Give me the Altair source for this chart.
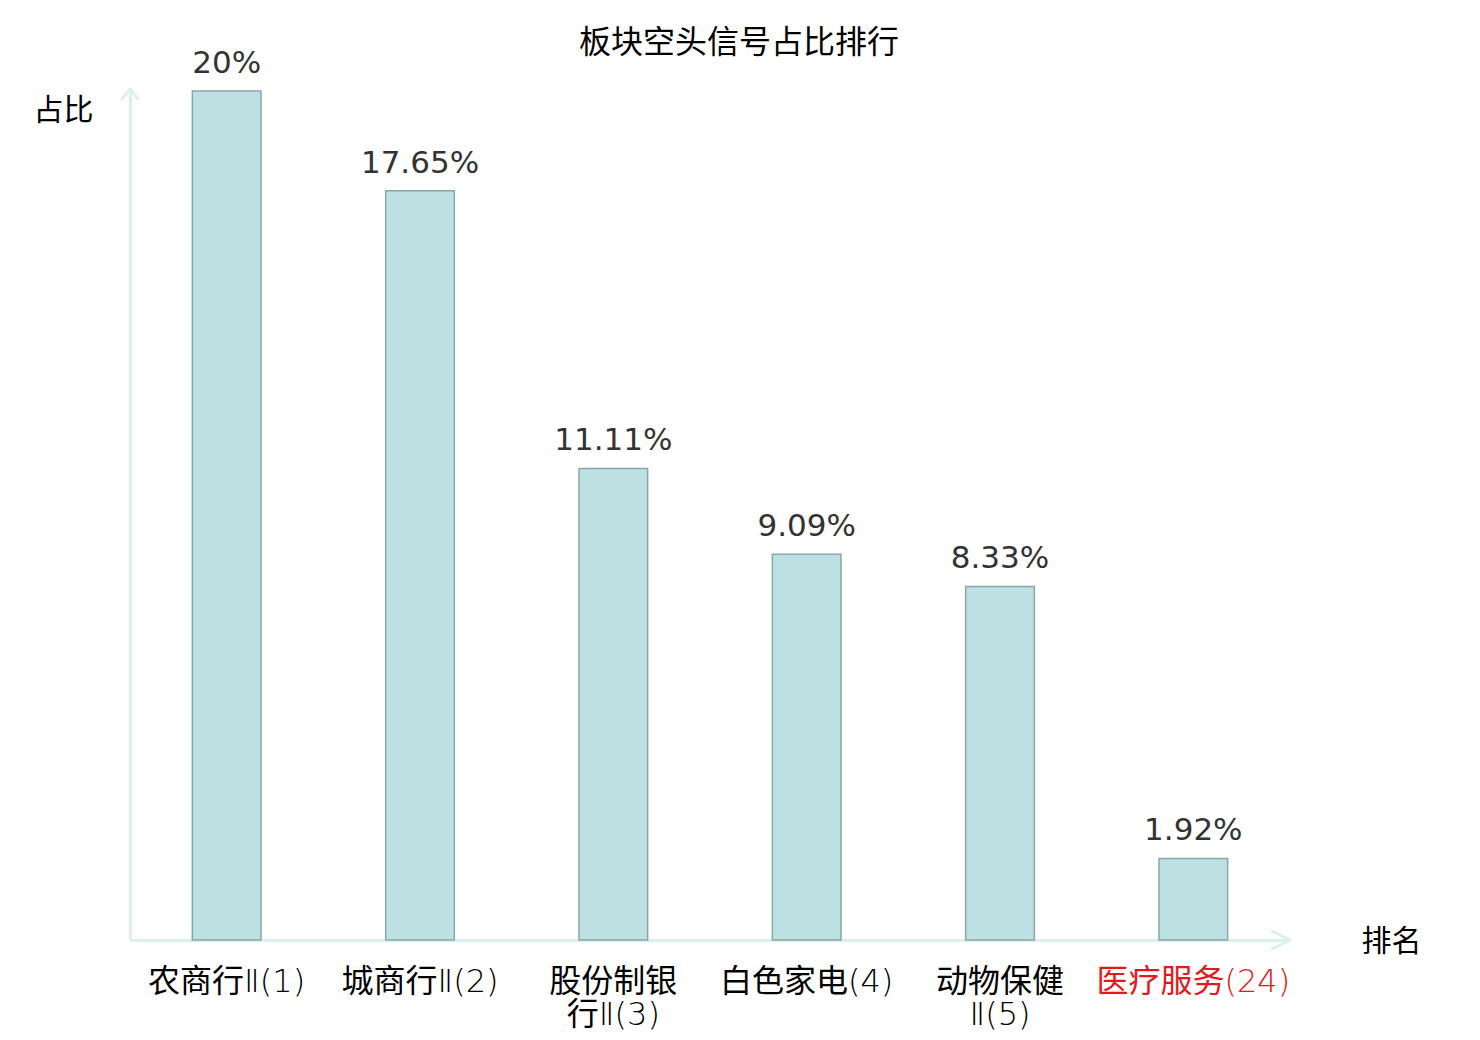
import altair as alt
import pandas as pd

categories = ["农商行Ⅱ(1)", "城商行Ⅱ(2)", "股份制银行Ⅱ(3)", "白色家电(4)", "动物保健Ⅱ(5)", "医疗服务(24)"]
shares = [20, 17.65, 11.11, 9.09, 8.33, 1.92]
value_labels = ["20%", "17.65%", "11.11%", "9.09%", "8.33%", "1.92%"]
highlight = "医疗服务(24)"

df = pd.DataFrame({"sector": categories, "share": shares, "label": value_labels})
one = pd.DataFrame({"k": [0]})

CJK = "Noto Sans CJK SC"
LABEL_FONT = "DejaVu Sans Light, Noto Sans CJK SC"
AXIS_COLOR = "#dcf0ee"

x_enc = alt.X(
    "sector:N",
    sort=categories,
    scale=alt.Scale(paddingInner=0.645, paddingOuter=0.3225),
    axis=alt.Axis(
        title="排名", titleX=1261, titleY=1, titleAngle=0, titleAlign="center",
        titleBaseline="middle", titleFont=CJK, titleFontSize=30, titleFontWeight="normal",
        titleColor="black",
        labelAngle=0, labelFont=LABEL_FONT, labelFontSize=32, labelPadding=26,
        labelBaseline="top", labelLineHeight=33, labelLimit=400,
        labelExpr="indexof(datum.label, 'Ⅱ') >= 0 && length(datum.label) > 7 ? [substring(datum.label, 0, 4), substring(datum.label, 4)] : datum.label",
        labelColor={"condition": {"test": f"datum.value === '{highlight}'", "value": "#e3191c"}, "value": "black"},
        ticks=False, grid=False, domainColor=AXIS_COLOR, domainWidth=3,
    ),
)
y_enc = alt.Y(
    "share:Q",
    scale=alt.Scale(domain=[0, 20], nice=False),
    axis=alt.Axis(
        title="占比", titleX=-67, titleY=19, titleAngle=0, titleAlign="center",
        titleBaseline="middle", titleFont=CJK, titleFontSize=30, titleFontWeight="normal",
        titleColor="black",
        labels=False, ticks=False, grid=False, domainColor=AXIS_COLOR, domainWidth=3,
    ),
)

bars = alt.Chart(df).mark_bar(color="#bde0e3", stroke="#8aa6a8", strokeWidth=1.5).encode(x=x_enc, y=y_enc)
texts = alt.Chart(df).mark_text(
    font="DejaVu Sans", fontSize=31, color="#333333", dy=-18, baseline="alphabetic"
).encode(x=alt.X("sector:N", sort=categories), y="share:Q", text="label:N")

y_arrow = alt.Chart(one).mark_point(
    shape="M-0.8,1L0,0L0.8,1", size=400, filled=False, stroke=AXIS_COLOR,
    strokeWidth=3, opacity=1, strokeCap="round", strokeJoin="round",
).encode(x=alt.value(0), y=alt.value(-2))
x_arrow = alt.Chart(one).mark_point(
    shape="M-1,-0.5L0,0L-1,0.5", size=1296, filled=False, stroke=AXIS_COLOR,
    strokeWidth=3, opacity=1, strokeCap="round", strokeJoin="round",
).encode(x=alt.value(1160), y=alt.value(849))

chart = alt.layer(bars, texts, y_arrow, x_arrow).properties(
    width=1160, height=849,
    autosize=alt.AutoSizeParams(type="none"),
    padding={"left": 122, "top": 83, "right": 160, "bottom": 92},
    title=alt.Title("板块空头信号占比排行", font=CJK, fontSize=32, fontWeight="normal",
                    color="black", anchor="middle", frame="group", dx=29, offset=36, dy=48),
).configure_view(stroke=None)

chart.save("out.html", embed_options={"renderer": "svg", "actions": False})
